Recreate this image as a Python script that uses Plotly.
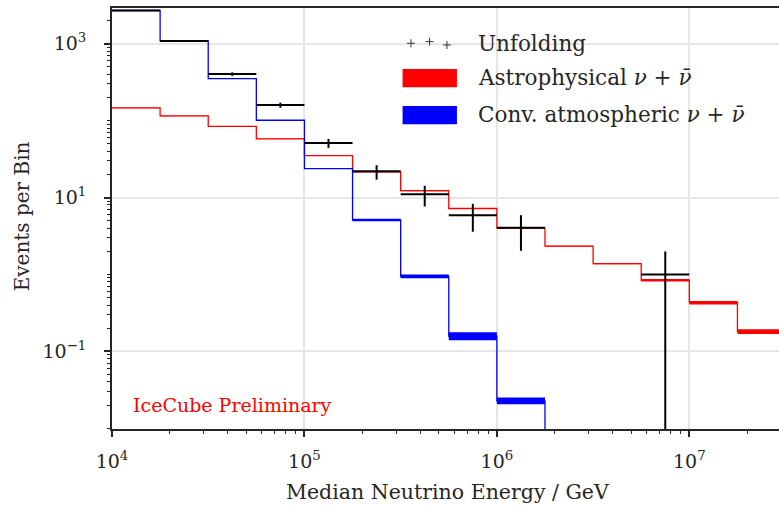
import numpy as np
import plotly.graph_objects as go

# Energy binning: quarter-decade bins from 1e4 to 10^7.5 GeV
log_edges = [4.0 + 0.25 * k for k in range(15)]

# Astrophysical nu + nubar expectation (central value and uncertainty band)
astro_val = [146, 115, 84, 58, 35, 21.6, 12.3, 7.2, 4.0, 2.33, 1.38, 0.84, 0.43, 0.18]
astro_lo = [145, 114, 83, 57.5, 34.6, 21.3, 12.1, 7.1, 3.95, 2.3, 1.36, 0.81, 0.407, 0.168]
astro_hi = [147, 116, 85, 58.5, 35.4, 21.9, 12.5, 7.3, 4.05, 2.36, 1.40, 0.87, 0.451, 0.193]

# Conventional atmospheric nu + nubar expectation
conv_val = [2700, 1085, 351, 101, 23.8, 5.1, 0.94, 0.157, 0.0227, 0, 0, 0, 0, 0]
conv_lo = [2680, 1075, 348, 100, 23.6, 4.9, 0.89, 0.139, 0.0205, 0, 0, 0, 0, 0]
conv_hi = [2720, 1095, 354, 102, 24.0, 5.3, 0.995, 0.177, 0.0251, 0, 0, 0, 0, 0]

# Unfolded spectrum (bin index, value, lower / upper bound)
unfold_bin = [0, 1, 2, 3, 4, 5, 6, 7, 8, 11]
unfold_val = [2700, 1085, 404, 160, 51.3, 22.0, 11.0, 5.9, 4.04, 1.0]
unfold_lo = [2660, 1052, 381, 147, 44.2, 17.1, 7.64, 3.59, 2.03, 0.0]
unfold_hi = [2740, 1117, 424, 171, 57.8, 26.3, 14.2, 8.28, 5.89, 1.99]

FLOOR = 1e-4  # empty bins are pushed below the visible range
edges = [10 ** e for e in log_edges]
FONT = "DejaVu Serif"
TXT = "#262626"

fig = go.Figure()


def floor(v):
    return [max(x, FLOOR) for x in v]


def band_and_line(val, lo, hi, color):
    lo, hi, val = floor(lo), floor(hi), floor(val)
    # filled band between the lower and upper step curves
    xs_up, ys_up, xs_dn, ys_dn = [], [], [], []
    for i in range(len(val)):
        xs_up += [edges[i], edges[i + 1]]
        ys_up += [hi[i], hi[i]]
        xs_dn += [edges[i], edges[i + 1]]
        ys_dn += [lo[i], lo[i]]
    fig.add_trace(go.Scatter(
        x=xs_up + xs_dn[::-1], y=ys_up + ys_dn[::-1],
        fill="toself", fillcolor=color, line=dict(width=0),
        mode="lines", hoverinfo="skip", showlegend=False))
    # central step line
    fig.add_trace(go.Scatter(
        x=edges, y=val + [val[-1]], mode="lines", line_shape="hv",
        line=dict(color=color, width=1.3), showlegend=False))


band_and_line(astro_val, astro_lo, astro_hi, "#ff0000")
band_and_line(conv_val, conv_lo, conv_hi, "#0000ff")

# Unfolding points: horizontal bar spans the bin, vertical bar is the uncertainty
xc, xp, xm, yp, ym = [], [], [], [], []
for b, v, lo, hi in zip(unfold_bin, unfold_val, unfold_lo, unfold_hi):
    c = 10 ** (log_edges[b] + 0.125)
    xc.append(c)
    xp.append(edges[b + 1] - c)
    xm.append(c - edges[b])
    yp.append(hi - v)
    ym.append(v - max(lo, FLOOR))
fig.add_trace(go.Scatter(
    x=xc, y=unfold_val, mode="markers",
    marker=dict(size=1, color="black", opacity=0),
    error_x=dict(type="data", symmetric=False, array=xp, arrayminus=xm,
                 width=0, thickness=2, color="black"),
    error_y=dict(type="data", symmetric=False, array=yp, arrayminus=ym,
                 width=0, thickness=2, color="black"),
    showlegend=False))

# Plot-area geometry in pixels (for legend placement)
W, H = 779, 508
L, R, T, B = 111.5, 0, 8, 78.5
pw, ph = W - L - R, H - T - B


def px(x):
    return (x - L) / pw


def py(y):
    return (H - B - y) / ph


shapes = []
# legend: three small crosses for the unfolding
for cx, cy in [(410.7, 43.3), (429.3, 41.7), (446.7, 45.0)]:
    shapes.append(dict(type="line", xref="paper", yref="paper",
                       x0=px(cx - 4), x1=px(cx + 4), y0=py(cy), y1=py(cy),
                       line=dict(color="#333333", width=1)))
    shapes.append(dict(type="line", xref="paper", yref="paper",
                       x0=px(cx), x1=px(cx), y0=py(cy - 4), y1=py(cy + 4),
                       line=dict(color="#333333", width=1)))
# legend patches
for y0, y1, col in [(69, 87.3, "#ff0000"), (106, 124.3, "#0000ff")]:
    shapes.append(dict(type="rect", xref="paper", yref="paper",
                       x0=px(402.3), x1=px(456.7), y0=py(y1), y1=py(y0),
                       fillcolor=col, line=dict(width=0)))

nu = "<i>ν</i> + <i>ν̄</i>"
annotations = [
    dict(text="Unfolding", x=px(476), y=py(44), xanchor="left", yanchor="middle"),
    dict(text="Astrophysical " + nu, x=px(476), y=py(78), xanchor="left", yanchor="middle"),
    dict(text="Conv. atmospheric " + nu, x=px(476), y=py(115), xanchor="left", yanchor="middle"),
]
for a in annotations:
    a.update(xref="paper", yref="paper", showarrow=False,
             font=dict(family=FONT, size=21.5, color=TXT))

annotations.append(dict(text="IceCube Preliminary", x=px(131), y=py(405),
                        xref="paper", yref="paper", xanchor="left", yanchor="middle",
                        showarrow=False, font=dict(family=FONT, size=19, color="#ff0000")))
annotations.append(dict(text="Median Neutrino Energy / GeV", x=px(448), y=py(493),
                        xref="paper", yref="paper", xanchor="center", yanchor="middle",
                        showarrow=False, font=dict(family=FONT, size=20.5, color=TXT)))
annotations.append(dict(text="Events per Bin", x=px(21), y=py(217), textangle=-90,
                        xref="paper", yref="paper", xanchor="center", yanchor="middle",
                        showarrow=False, font=dict(family=FONT, size=20, color=TXT)))

x_major = [1e4, 1e5, 1e6, 1e7]
x_labels = ["10<sup>4</sup>", "10<sup>5</sup>", "10<sup>6</sup>", "10<sup>7</sup>"]
y_major = [1e-1, 1e1, 1e3]
y_labels = ["10<sup>−1</sup>", "10<sup>1</sup>", "10<sup>3</sup>"]
x_minor = [m * 10 ** d for d in range(4, 8) for m in range(2, 10)]
y_minor = [m * 10 ** d for d in range(-3, 4) for m in range(1, 10) if not (m == 1 and d % 2 == 1)]

axis_common = dict(
    type="log", showline=True, linecolor=TXT, linewidth=1.8,
    ticks="outside", ticklen=6, tickwidth=1.5, tickcolor=TXT,
    showgrid=True, gridcolor="#e6e6e6", gridwidth=1.5, zeroline=False,
    tickfont=dict(family=FONT, size=19, color=TXT),
)

fig.update_layout(
    width=W, height=H,
    margin=dict(l=L, r=R, t=T, b=B),
    paper_bgcolor="white", plot_bgcolor="white",
    shapes=shapes, annotations=annotations,
    xaxis=dict(axis_common, range=[4, 7.466], tickvals=x_major, ticktext=x_labels,
               mirror=True, ticklabelstandoff=8,
               minor=dict(tickvals=x_minor, ticks="outside", ticklen=3,
                          tickwidth=1, tickcolor=TXT, showgrid=False)),
    yaxis=dict(axis_common, range=[-2.01, 3.464], tickvals=y_major, ticktext=y_labels,
               ticklabelstandoff=14,
               minor=dict(tickvals=y_minor, ticks="outside", ticklen=3,
                          tickwidth=1, tickcolor=TXT, showgrid=False)),
)

fig.write_html("out.html")
